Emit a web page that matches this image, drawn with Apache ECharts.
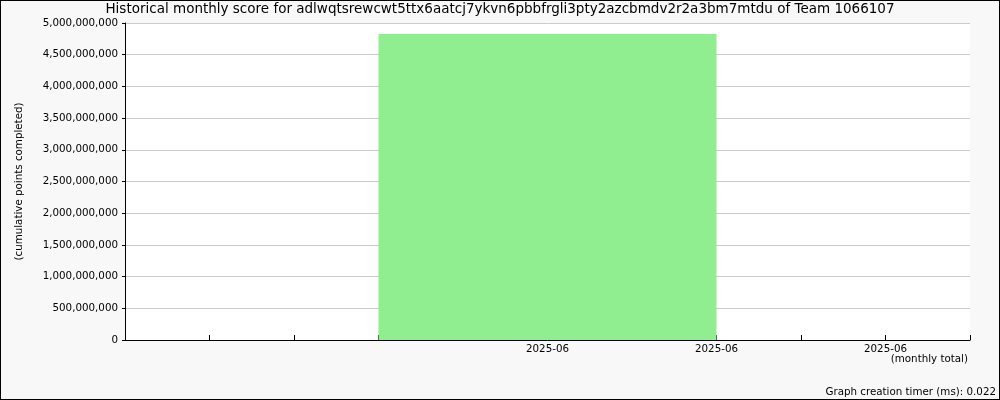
<!DOCTYPE html>
<html>
<head>
<meta charset="utf-8">
<script src="https://cdn.jsdelivr.net/npm/echarts@6/dist/echarts.min.js"></script>
<style>html,body{margin:0;padding:0;background:#f8f8f8;}#c{width:1000px;height:400px;}</style>
</head>
<body>
<div id="c"></div>
<script>
const titleText = "Historical monthly score for adlwqtsrewcwt5ttx6aatcj7ykvn6pbbfrgli3pty2azcbmdv2r2a3bm7mtdu of Team 1066107";
const xTickLabels = ["", "", "", "", "", "2025-06", "", "2025-06", "", "2025-06", ""];
const barStart = [3];
const barEnd = [7];
const barValues = [4826000000];
const yMin = 0, yMax = 5000000000, yStep = 500000000;
const yAxisTitle = "(cumulative points completed)";
const xAxisTitle = "(monthly total)";
const footerText = "Graph creation timer (ms): 0.022";

const FONT = "DejaVu Sans";
const chart = echarts.init(document.getElementById('c'), null, {renderer: 'canvas'});
const data = barValues.map((v, i) => [barStart[i], barEnd[i], v]);
chart.setOption({
  backgroundColor: '#f8f8f8',
  animation: false,
  textStyle: {fontFamily: FONT},
  title: {
    text: titleText, left: 'center', top: 0, padding: [2, 5],
    textStyle: {fontFamily: FONT, fontSize: 13.5, fontWeight: 'normal', color: '#000'}
  },
  grid: {left: 125, right: 30, top: 23, bottom: 60, show: true, backgroundColor: '#ffffff', borderWidth: 0},
  xAxis: {
    type: 'value', min: 0, max: xTickLabels.length - 1, interval: 1,
    axisLine: {show: true, lineStyle: {color: '#000', width: 1}},
    axisTick: {show: true, inside: true, length: 5, lineStyle: {color: '#000'}},
    splitLine: {show: false},
    axisLabel: {
      margin: 4, fontFamily: FONT, fontSize: 10.3, color: '#000',
      showMinLabel: true, showMaxLabel: true,
      formatter: v => xTickLabels[Math.round(v)] || ''
    }
  },
  yAxis: {
    type: 'value', min: yMin, max: yMax, interval: yStep,
    name: yAxisTitle, nameLocation: 'middle', nameRotate: 90, nameGap: 101,
    nameTextStyle: {fontFamily: FONT, fontSize: 10.3, color: '#000'},
    axisLine: {show: true, lineStyle: {color: '#000', width: 1}},
    axisTick: {show: true, length: 3, lineStyle: {color: '#000'}},
    splitLine: {show: true, lineStyle: {color: '#cccccc', width: 1}},
    axisLabel: {
      margin: 7, fontFamily: FONT, fontSize: 10.3, color: '#000',
      formatter: v => Number(v).toLocaleString('en-US')
    }
  },
  graphic: [
    {type: 'text', right: 32, top: 354, style: {text: xAxisTitle, font: '10.3px "DejaVu Sans"', fill: '#000'}},
    {type: 'text', right: 4, top: 387, style: {text: footerText, font: '10.3px "DejaVu Sans"', fill: '#000'}},
    {type: 'line', shape: {x1: 0.5, y1: 0, x2: 0.5, y2: 400}, style: {stroke: '#000', lineWidth: 1}},
    {type: 'line', shape: {x1: 999.5, y1: 0, x2: 999.5, y2: 400}, style: {stroke: '#000', lineWidth: 1}},
    {type: 'line', shape: {x1: 0, y1: 0.5, x2: 1000, y2: 0.5}, style: {stroke: '#000', lineWidth: 1}},
    {type: 'line', shape: {x1: 0, y1: 399.5, x2: 1000, y2: 399.5}, style: {stroke: '#000', lineWidth: 1}}
  ],
  series: [{
    type: 'custom',
    data: data,
    encode: {x: [0, 1], y: 2},
    renderItem: function (params, api) {
      const p0 = api.coord([api.value(0), api.value(2)]);
      const p1 = api.coord([api.value(1), 0]);
      return {
        type: 'rect',
        shape: {x: p0[0], y: p0[1], width: p1[0] - p0[0], height: p1[1] - p0[1]},
        style: {fill: '#90ee90'}
      };
    },
    z: 1
  }]
});
</script>
</body>
</html>
